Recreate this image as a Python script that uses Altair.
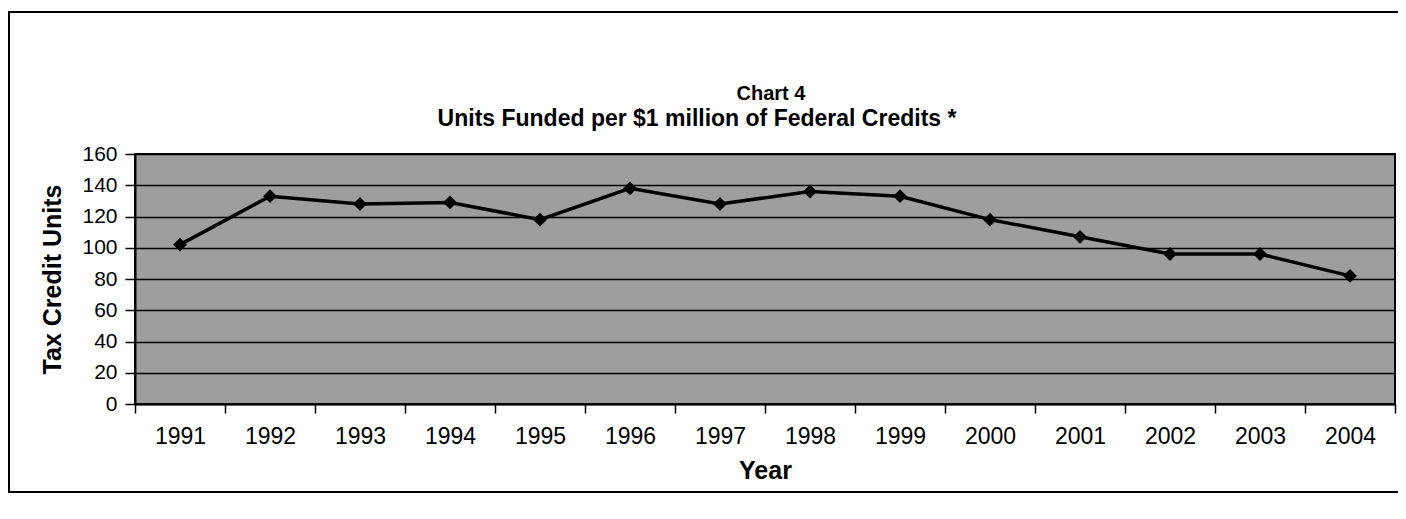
import altair as alt
import pandas as pd

years = ["1991", "1992", "1993", "1994", "1995", "1996", "1997",
         "1998", "1999", "2000", "2001", "2002", "2003", "2004"]
units = [102, 133, 128, 129, 118, 138, 128, 136, 133, 118, 107, 96, 96, 82]
title_lines = ["Chart 4", "Units Funded per $1 million of Federal Credits *"]

df = pd.DataFrame({"Year": years, "Units": units})
FONT = "Liberation Sans"

x_enc = alt.X(
    "Year:N",
    sort=years,
    scale=alt.Scale(type="band", paddingInner=0, paddingOuter=0),
    axis=alt.Axis(
        title="Year", labelAngle=0, labelFontSize=23, labelFont=FONT,
        labelColor="black", labelPadding=12, tickBand="extent",
        tickSize=9, tickColor="black", tickWidth=1.5,
        domainColor="black", domainWidth=2,
        titleFontSize=25, titleFont=FONT, titleFontWeight="bold",
        titleColor="black", titlePadding=10, grid=False,
    ),
)
y_enc = alt.Y(
    "Units:Q",
    scale=alt.Scale(domain=[0, 160], nice=False),
    axis=alt.Axis(
        title="Tax Credit Units", values=list(range(0, 161, 20)),
        labelFontSize=21, labelFont=FONT, labelColor="black",
        labelPadding=8, tickSize=10, tickColor="black", tickWidth=1.5,
        domainColor="black", domainWidth=2,
        grid=True, gridColor="black", gridWidth=1.5, gridOpacity=1,
        titleFontSize=25, titleFont=FONT, titleFontWeight="bold",
        titleColor="black", titlePadding=16,
    ),
)

base = alt.Chart(df)
line = base.mark_line(color="black", strokeWidth=3.5).encode(x=x_enc, y=y_enc)
pts = base.mark_point(shape="diamond", filled=True, color="black",
                      size=190, opacity=1).encode(x=x_enc, y=y_enc)

t1 = alt.Chart(pd.DataFrame({"t": [title_lines[0]]})).mark_text(
    font=FONT, fontSize=20, fontWeight="bold", color="black",
    align="center", baseline="middle"
).encode(text="t:N", x=alt.value(636), y=alt.value(-60))
t2 = alt.Chart(pd.DataFrame({"t": [title_lines[1]]})).mark_text(
    font=FONT, fontSize=23, fontWeight="bold", color="black",
    align="center", baseline="middle"
).encode(text="t:N", x=alt.value(562), y=alt.value(-35))

one = pd.DataFrame({"f": [0]})
frame_left = alt.Chart(one).mark_rule(color="black", strokeWidth=2).encode(
    x=alt.value(-126), y=alt.value(-142), y2=alt.value(338))
frame_top = alt.Chart(one).mark_rule(color="black", strokeWidth=2).encode(
    x=alt.value(-127), x2=alt.value(1300), y=alt.value(-142))
frame_bottom = alt.Chart(one).mark_rule(color="black", strokeWidth=2).encode(
    x=alt.value(-127), x2=alt.value(1300), y=alt.value(338))

chart = alt.layer(line, pts, t1, t2, frame_left, frame_top, frame_bottom).properties(
    width=1260, height=250,
    autosize=alt.AutoSizeParams(type="none"),
    padding={"left": 127, "top": 146, "right": 3, "bottom": 100},
    background="white",
).configure_view(
    fill="#9e9e9e", stroke="black", strokeWidth=2
)

chart.save("out.html", embed_options={"renderer": "svg", "actions": False})
